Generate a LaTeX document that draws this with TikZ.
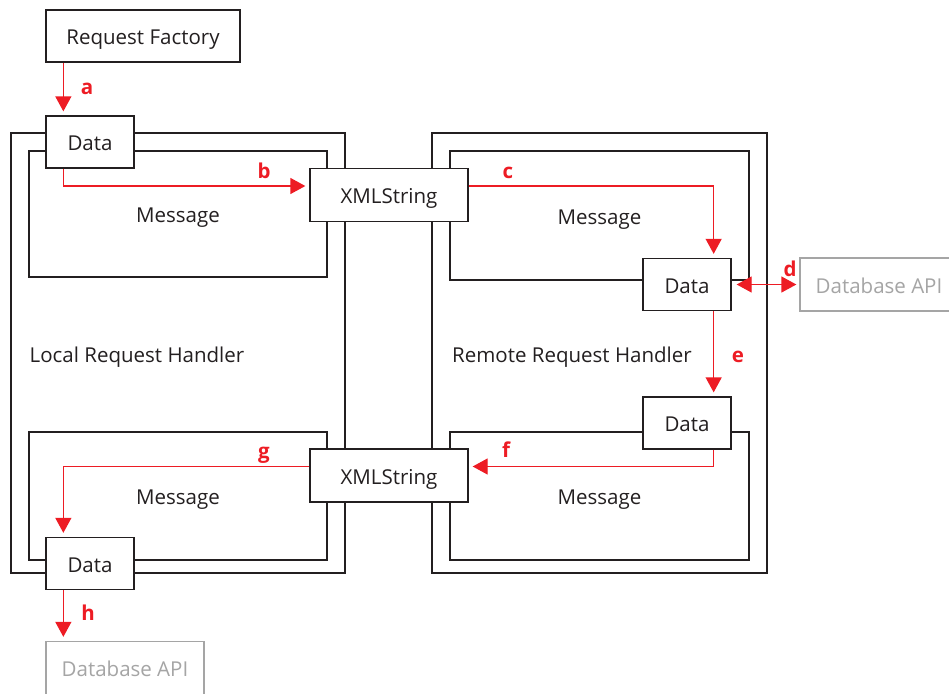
\documentclass[tikz,border=0pt]{standalone}
\usepackage{fontspec}
\setmainfont{Open Sans}
\usetikzlibrary{arrows.meta,calc,positioning}
\definecolor{flowred}{RGB}{237,28,36}
\definecolor{ink}{RGB}{35,31,32}
\definecolor{apigray}{RGB}{165,165,165}

\begin{document}
\begin{tikzpicture}[x=1pt, y=-1pt,
  font=\fontsize{20.5}{24}\selectfont, text=ink,
  every node/.style={text height=17pt, text depth=0pt},
  frame/.style={rectangle, draw=ink, line width=1.3pt, inner sep=0pt},
  box/.style={frame, fill=white},
  databox/.style={box, minimum width=88pt, minimum height=52pt},
  xmlbox/.style={box, minimum width=158pt, minimum height=53pt},
  apibox/.style={box, draw=apigray, text=apigray, minimum width=158pt, minimum height=53pt},
  flow/.style={draw=flowred, line width=1.3pt, -{Triangle[length=15pt,width=16pt]}, shorten >=4pt},
  tag/.style={text=flowred, font=\fontsize{20.5}{24}\selectfont\bfseries}]
\path[use as bounding box, clip] (0,0) rectangle (949,693);

% handlers and their messages
\node[frame, minimum width=334pt, minimum height=440pt] (local) at (178,353) {};
\node[frame, minimum width=335pt, minimum height=440pt] (remote) at (599.5,353) {};
\node[frame, minimum width=298pt, minimum height=126pt] (lmsg1) at (178,214) {Message};
\node[frame, minimum width=298pt, minimum height=128pt] (lmsg2) at (178,496) {Message};
\node[frame, minimum width=299pt, minimum height=129pt] (rmsg1) at (599.5,215.5) {Message};
\node[frame, minimum width=299pt, minimum height=128pt] (rmsg2) at (599.5,496) {Message};
\node (localtxt) at (137,354) {Local Request Handler};
\node (remotetxt) at (572,354) {Remote Request Handler};

% boxes
\node[box, minimum width=194pt, minimum height=52pt] (factory) at (143,36) {Request Factory};
\node[databox] (dl1) at (90,142) {Data};
\node[xmlbox] (xml1) at (389,195) {XMLString};
\node[databox] (dr1) at (687,284.5) {Data};
\node[apibox] (dbr) at (879,284.5) {Database API};
\node[databox] (dr2) at (687,423) {Data};
\node[xmlbox] (xml2) at (389,475.5) {XMLString};
\node[databox] (dl2) at (90,563.5) {Data};
\node[apibox] (dbl) at (125,668) {Database API};

% request flow
\draw[flow] ([xshift=18pt]factory.south west) -- ([xshift=18pt]dl1.north west);
\draw[flow] ([xshift=18pt]dl1.south west) |- ([yshift=9pt]xml1.west);
\draw[flow] ([yshift=9pt]xml1.east) -| ([xshift=-18pt]dr1.north east);
\draw[flow, {Triangle[length=15pt,width=16pt]}-{Triangle[length=15pt,width=16pt]}, shorten <=5pt, shorten >=3pt] (dr1.east) -- (dbr.west);
\draw[flow] ([xshift=-18pt]dr1.south east) -- ([xshift=-18pt]dr2.north east);
\draw[flow] ([xshift=-18pt]dr2.south east) |- ([yshift=9pt]xml2.east);
\draw[flow] ([yshift=9pt]xml2.west) -| ([xshift=18pt]dl2.north west);
\draw[flow] ([xshift=18pt]dl2.south west) -- ([xshift=18pt]dbl.north west);

% step letters
\node[tag] (ta) at (87,86) {a};
\node[tag] (tb) at (264,170) {b};
\node[tag] (tc) at (508,170) {c};
\node[tag] (td) at (790,268) {d};
\node[tag] (te) at (738,354) {e};
\node[tag] (tf) at (506,449) {f};
\node[tag] (tg) at (264,450) {g};
\node[tag] (th) at (88,612) {h};
\end{tikzpicture}
\end{document}
